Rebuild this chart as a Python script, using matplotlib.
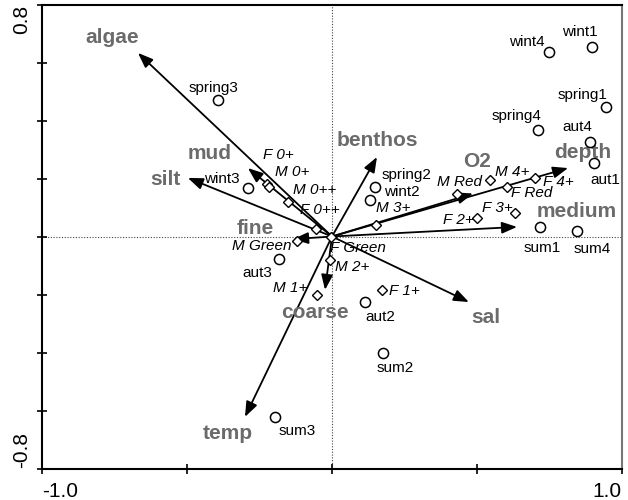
import matplotlib
matplotlib.use("Agg")
import matplotlib.pyplot as plt

plt.rcParams['font.family'] = ['Liberation Sans', 'DejaVu Sans']

# ---- data ----
env_names = ['algae', 'mud', 'silt', 'fine', 'benthos', 'O2', 'depth',
             'medium', 'sal', 'coarse', 'temp']
env_x = [-0.669, -0.290, -0.497, -0.134, 0.155, 0.486, 0.814,
         0.638, 0.472, -0.024, -0.300]
env_y = [0.633, 0.236, 0.202, -0.009, 0.274, 0.148, 0.236,
         0.033, -0.226, -0.184, -0.622]

sample_names = ['spring3', 'wint3', 'wint4', 'wint1', 'spring1', 'spring4',
                'aut4', 'aut1', 'sum1', 'sum4', 'spring2', 'wint2',
                'aut3', 'aut2', 'sum2', 'sum3']
sample_x = [-0.393, -0.290, 0.748, 0.897, 0.945, 0.710,
            0.890, 0.903, 0.717, 0.845, 0.148, 0.131,
            -0.183, 0.114, 0.176, -0.197]
sample_y = [0.471, 0.167, 0.636, 0.653, 0.447, 0.367,
            0.326, 0.253, 0.033, 0.019, 0.171, 0.126,
            -0.078, -0.226, -0.402, -0.622]

species_names = ['F 0+', 'M 0+', 'M 0++', 'F 0++', 'M Green', 'F Green',
                 'M 2+', 'M 1+', 'F 1+', 'M 3+', 'M Red', 'M 4+',
                 'F Red', 'F 4+', 'F 3+', 'F 2+']
species_x = [-0.224, -0.217, -0.152, -0.055, -0.121, -0.003,
             -0.007, -0.052, 0.172, 0.152, 0.431, 0.545,
             0.603, 0.700, 0.631, 0.500]
species_y = [0.181, 0.171, 0.119, 0.026, -0.016, -0.002,
             -0.081, -0.202, -0.184, 0.040, 0.147, 0.195,
             0.171, 0.202, 0.081, 0.064]

x_ticks = [-1.0, -0.5, 0.0, 0.5, 1.0]
x_ticklabels = ['-1.0', '', '', '', '1.0']
y_ticks = [-0.8, -0.6, -0.4, -0.2, 0.0, 0.2, 0.4, 0.6, 0.8]
y_ticklabels = ['-0.8', '', '', '', '', '', '', '', '0.8']

# ---- label offsets (pixels, layout only) ----
env_off = {'algae': (-26, 15), 'mud': (-38, 15), 'silt': (-22, -2),
           'fine': (-38, 11), 'benthos': (0, 17), 'O2': (4, 32),
           'depth': (15, 16), 'medium': (60, 15), 'sal': (17, -15),
           'coarse': (-10, -23), 'temp': (-17, -17)}
sample_off = {'spring3': (-5, 12), 'wint3': (-26, 9), 'wint4': (-22, 10),
              'wint1': (-12, 15), 'spring1': (-24, 12), 'spring4': (-21, 14),
              'aut4': (-13, 15), 'aut1': (11, -17), 'sum1': (2, -21),
              'sum4': (15, -18), 'spring2': (32, 12), 'wint2': (32, 8),
              'aut3': (-22, -14), 'aut2': (15, -15), 'sum2': (12, -15),
              'sum3': (22, -14)}
species_off = {'F 0+': (11, 29), 'M 0+': (23, 15), 'M 0++': (27, 12),
               'F 0++': (4, 19), 'M Green': (-35, -5), 'F Green': (27, -11),
               'M 2+': (22, -7), 'M 1+': (-27, 7), 'F 1+': (22, -1),
               'M 3+': (17, 17), 'M Red': (3, 12), 'M 4+': (22, 8),
               'F Red': (25, -6), 'F 4+': (23, -4), 'F 3+': (-18, 5),
               'F 2+': (-19, -2)}

fig = plt.figure(figsize=(6.28, 5.0), dpi=100)
ax = fig.add_axes([42 / 628, 1 - 468.5 / 500, 580 / 628, 464 / 500])
ax.set_xlim(-1.0, 1.0)
ax.set_ylim(-0.8, 0.8)

# reference lines
ax.axvline(0, color='#444444', lw=0.8, ls=(0, (1, 1.5)), zorder=1)
ax.axhline(0, color='#444444', lw=0.8, ls=(0, (1, 1.5)), zorder=1)

# environmental arrows
for name, x, y in zip(env_names, env_x, env_y):
    ax.annotate('', xy=(x, y), xytext=(0, 0),
                arrowprops=dict(arrowstyle='-|>,head_length=0.65,head_width=0.25',
                                color='black', lw=1.3, shrinkA=0, shrinkB=0,
                                mutation_scale=14), zorder=3)
    dx, dy = env_off[name]
    ax.annotate(name, xy=(x, y), xytext=(dx, dy), textcoords='offset pixels',
                ha='center', va='center', fontsize=15, fontweight='bold',
                color='#6b6b6b', zorder=4)

# samples
ax.plot(sample_x, sample_y, 'o', ms=7.3, mfc='white', mec='black', mew=1.1,
        zorder=5)
for name, x, y in zip(sample_names, sample_x, sample_y):
    dx, dy = sample_off[name]
    ax.annotate(name, xy=(x, y), xytext=(dx, dy), textcoords='offset pixels',
                ha='center', va='center', fontsize=11, color='black', zorder=6)

# species
ax.plot(species_x, species_y, 'D', ms=5.5, mfc='white', mec='black', mew=1.0,
        zorder=5)
for name, x, y in zip(species_names, species_x, species_y):
    dx, dy = species_off[name]
    ax.annotate(name, xy=(x, y), xytext=(dx, dy), textcoords='offset pixels',
                ha='center', va='center', fontsize=11, fontstyle='italic',
                color='black', zorder=6)

# ticks
ax.set_xticks(x_ticks)
ax.set_xticklabels(x_ticklabels, fontsize=15)
ax.set_yticks(y_ticks)
ax.set_yticklabels(y_ticklabels, fontsize=15, rotation=90)
ax.tick_params(direction='inout', length=7, width=1.2, top=False, right=False)
ax.tick_params(axis='x', pad=6)
ax.tick_params(axis='y', pad=4)
xl = ax.get_xticklabels()
xl[0].set_ha('left')
xl[-1].set_ha('right')
yl = ax.get_yticklabels()
yl[0].set_va('bottom')
yl[-1].set_va('top')

for side in ['top', 'left', 'bottom']:
    ax.spines[side].set_linewidth(1.5)
    ax.spines[side].set_color('black')
ax.spines['right'].set_linewidth(1.5)
ax.spines['right'].set_color('#777777')

fig.savefig('out.png', dpi=100)
